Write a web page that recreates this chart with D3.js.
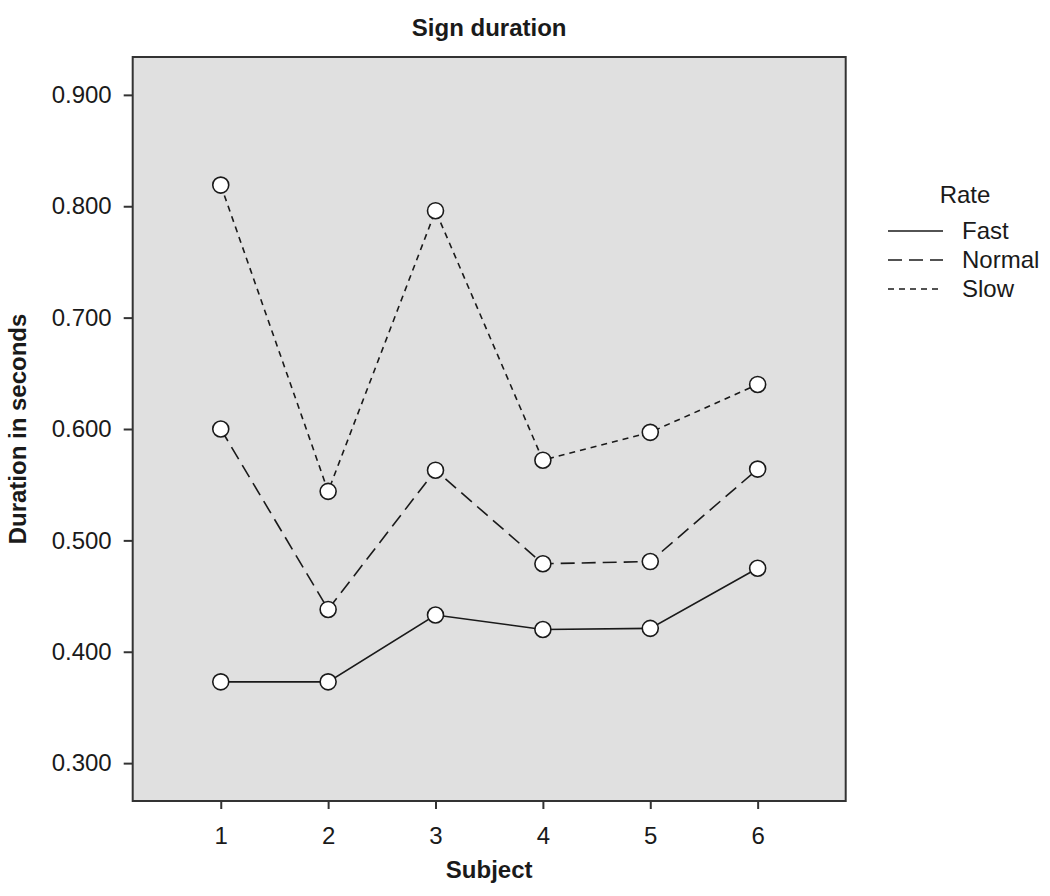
<!DOCTYPE html>
<html>
<head>
<meta charset="utf-8">
<script src="https://cdn.jsdelivr.net/npm/d3@7"></script>
<style>
  body { margin: 0; background: #fff; }
  svg { display: block; font-family: "Liberation Sans", Arial, sans-serif; }
</style>
</head>
<body>
<svg id="chart" width="1050" height="896"></svg>
<script>
const subjects = [1, 2, 3, 4, 5, 6];
const rates    = ['Fast', 'Normal', 'Slow'];
const fast     = [0.373, 0.373, 0.433, 0.420, 0.421, 0.475];
const normal   = [0.600, 0.438, 0.563, 0.479, 0.481, 0.564];
const slow     = [0.819, 0.544, 0.796, 0.572, 0.597, 0.640];
const yTicks   = [0.3, 0.4, 0.5, 0.6, 0.7, 0.8, 0.9];

const series = [
    { name: rates[0], values: fast,   dash: null },
    { name: rates[1], values: normal, dash: '14,7' },
    { name: rates[2], values: slow,   dash: '6,5' }
];

const LEFT   = 132.7;
const RIGHT  = 845.7;
const TOP    = 57;
const BOTTOM = 801;
const INK    = '#1a1a1a';

const svg = d3.select('#chart');

const x = d3.scaleLinear().domain([0.18, 6.82]).range([LEFT, RIGHT]);
const y = d3.scaleLinear().domain([0.266, 0.934]).range([BOTTOM, TOP]);

// plot background
svg.append('rect')
    .attr('x', LEFT)
    .attr('y', TOP)
    .attr('width', RIGHT - LEFT)
    .attr('height', BOTTOM - TOP)
    .attr('fill', '#e0e0e0')
    .attr('stroke', '#333')
    .attr('stroke-width', 2);

// axes
let yAxis = svg.append('g')
    .attr('transform', `translate(${LEFT},0)`)
    .call(d3.axisLeft(y).tickValues(yTicks).tickFormat(d3.format('.3f')).tickSize(9).tickPadding(12));

let xAxis = svg.append('g')
    .attr('transform', `translate(0,${BOTTOM})`)
    .call(d3.axisBottom(x).tickValues(subjects).tickFormat(d3.format('d')).tickSize(8).tickPadding(18));

[yAxis, xAxis].forEach(g => {
    g.select('.domain').remove();
    g.selectAll('.tick line').attr('stroke', '#333').attr('stroke-width', 2);
    g.selectAll('.tick text')
        .attr('fill', INK)
        .style('font-size', '24px')
        .style('font-family', '"Liberation Sans", Arial, sans-serif');
});

// lines
const line = d3.line()
    .x((d, i) => x(subjects[i]))
    .y(d => y(d));

series.forEach(s => {
    svg.append('path')
        .datum(s.values)
        .attr('d', line)
        .attr('fill', 'none')
        .attr('stroke', INK)
        .attr('stroke-width', 1.6)
        .attr('stroke-dasharray', s.dash);
});

// markers
series.forEach(s => {
    svg.append('g')
        .selectAll('circle')
        .data(s.values)
        .join('circle')
        .attr('cx', (d, i) => x(subjects[i]))
        .attr('cy', d => y(d))
        .attr('r', 8)
        .attr('fill', '#fff')
        .attr('stroke', INK)
        .attr('stroke-width', 1.6);
});

// titles
svg.append('text')
    .attr('x', (LEFT + RIGHT) / 2)
    .attr('y', 36)
    .attr('text-anchor', 'middle')
    .style('font-size', '24px')
    .style('font-weight', 'bold')
    .attr('fill', INK)
    .text('Sign duration');

svg.append('text')
    .attr('x', (LEFT + RIGHT) / 2)
    .attr('y', 878)
    .attr('text-anchor', 'middle')
    .style('font-size', '24px')
    .style('font-weight', 'bold')
    .attr('fill', INK)
    .text('Subject');

svg.append('text')
    .attr('transform', `translate(26,${(TOP + BOTTOM) / 2}) rotate(-90)`)
    .attr('text-anchor', 'middle')
    .style('font-size', '24px')
    .style('font-weight', 'bold')
    .attr('fill', INK)
    .text('Duration in seconds');

// legend
let legend = svg.append('g').attr('transform', 'translate(888,0)');

legend.append('text')
    .attr('x', 77)
    .attr('y', 203)
    .attr('text-anchor', 'middle')
    .style('font-size', '24px')
    .attr('fill', INK)
    .text('Rate');

let rows = legend.selectAll('g.row')
    .data(series)
    .join('g')
    .attr('class', 'row')
    .attr('transform', (d, i) => `translate(0,${231 + i * 29})`);

rows.append('line')
    .attr('x1', 0)
    .attr('x2', 55)
    .attr('stroke', INK)
    .attr('stroke-width', 1.6)
    .attr('stroke-dasharray', d => d.dash);

rows.append('text')
    .attr('x', 74)
    .attr('y', 8)
    .style('font-size', '24px')
    .attr('fill', INK)
    .text(d => d.name);
</script>
</body>
</html>
